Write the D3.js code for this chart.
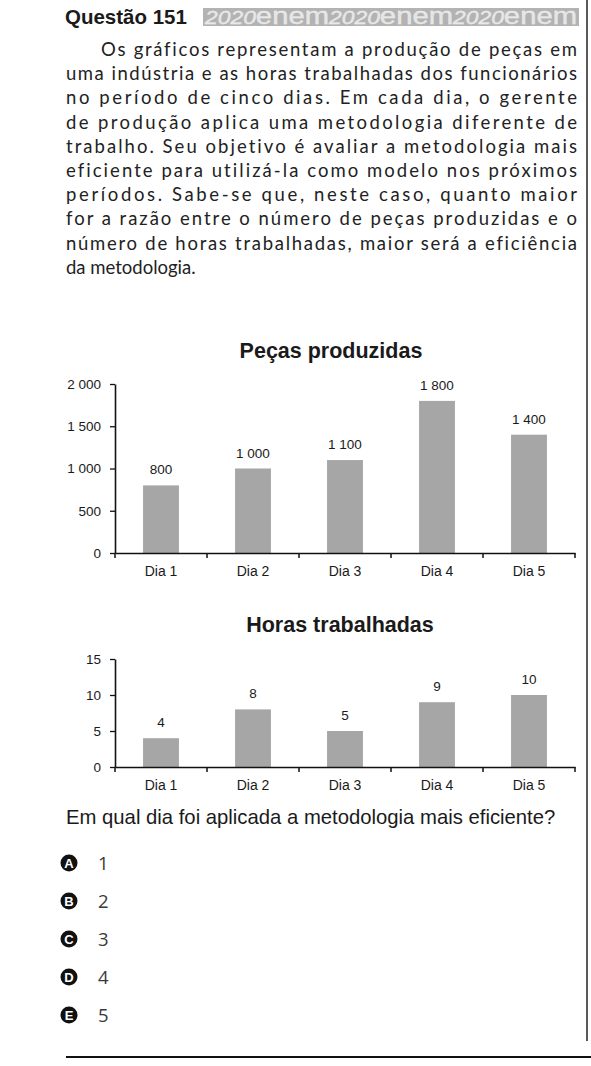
<!DOCTYPE html>
<html>
<head>
<meta charset="utf-8">
<script src="https://cdn.jsdelivr.net/npm/d3@7"></script>
<style>
  html, body { margin: 0; padding: 0; background: #fff; }
  svg { display: block; }
  text { font-variant-ligatures: none; font-feature-settings: "liga" 0, "dlig" 0, "clig" 0; }
</style>
</head>
<body>
<script>
// Data
const days = ["Dia 1", "Dia 2", "Dia 3", "Dia 4", "Dia 5"];
const pecas = [800, 1000, 1100, 1800, 1400];
const horas = [4, 8, 5, 9, 10];
const pecasTicks = [0, 500, 1000, 1500, 2000];
const horasTicks = [0, 5, 10, 15];

const bodyLines = [
  "Os gráficos representam a produção de peças em",
  "uma indústria e as horas trabalhadas dos funcionários",
  "no período de cinco dias. Em cada dia, o gerente",
  "de produção aplica uma metodologia diferente de",
  "trabalho. Seu objetivo é avaliar a metodologia mais",
  "eficiente para utilizá-la como modelo nos próximos",
  "períodos. Sabe-se que, neste caso, quanto maior",
  "for a razão entre o número de peças produzidas e o",
  "número de horas trabalhadas, maior será a eficiência",
  "da metodologia."
];
const optionLetters = ["A", "B", "C", "D", "E"];
const optionValues = ["1", "2", "3", "4", "5"];

const W = 591, H = 1066;
const arial = "'Liberation Sans', Arial, sans-serif";
const body = "Lato, 'Open Sans', sans-serif";

const locale = d3.formatLocale({decimal: ",", thousands: " ", grouping: [3], currency: ["", ""]});
const fmt = locale.format(",d");

const svg = d3.select("body").append("svg")
  .attr("width", W)
  .attr("height", H);

// header
svg.append("text")
  .attr("x", 65).attr("y", 24)
  .attr("font-family", arial)
  .attr("font-weight", "bold")
  .attr("font-size", 20.5)
  .attr("fill", "#1a1a1a")
  .text("Questão 151");

svg.append("rect")
  .attr("x", 203).attr("y", 8)
  .attr("width", 376).attr("height", 18)
  .attr("fill", "#b3b3b3");

// the "2020enem" banner: small slanted digits, larger lowercase word
const banner = svg.append("text")
  .attr("x", 205).attr("y", 24)
  .attr("textLength", 372)
  .attr("lengthAdjust", "spacingAndGlyphs")
  .attr("font-family", arial)
  .attr("fill", "#e4e4e4")
  .attr("stroke", "#f4f4f4")
  .attr("stroke-width", 0.3);
["2020", "enem", "2020", "enem", "2020", "enem"].forEach(s => {
  const digits = s === "2020";
  banner.append("tspan")
    .attr("font-size", digits ? 18 : 23)
    .attr("font-style", digits ? "italic" : "normal")
    .text(s);
});

// right border + bottom rule
svg.append("line")
  .attr("x1", 587).attr("x2", 587)
  .attr("y1", 0).attr("y2", 1041)
  .attr("stroke", "#222").attr("stroke-width", 1.5);

svg.append("line")
  .attr("x1", 66).attr("x2", W)
  .attr("y1", 1057).attr("y2", 1057)
  .attr("stroke", "#111").attr("stroke-width", 2);

// body paragraph, justified line by line
const lineTop = 56, lineStep = 24.2;
bodyLines.forEach((line, i) => {
  const x0 = i === 0 ? 101 : 66;
  const t = svg.append("text")
    .attr("x", x0)
    .attr("y", lineTop + i * lineStep)
    .attr("font-family", body)
    .attr("font-size", 18.5)
    .attr("fill", "#222")
    .text(line);
  if (i < bodyLines.length - 1) {
    t.attr("textLength", 577 - x0).attr("lengthAdjust", "spacing");
  }
});

// bar chart helper
function barChart(opts) {
  const g = svg.append("g");

  g.append("text")
    .attr("x", opts.titleX)
    .attr("y", opts.titleY)
    .attr("text-anchor", "middle")
    .attr("font-family", arial)
    .attr("font-weight", "bold")
    .attr("font-size", 21.5)
    .attr("fill", "#1a1a1a")
    .text(opts.title);

  const x = d3.scaleBand()
    .domain(days)
    .range([115, 575])
    .padding(0);

  const y = d3.scaleLinear()
    .domain([0, opts.max])
    .range([opts.bottom, opts.top]);

  const barW = x.bandwidth() * 0.39;

  g.selectAll("rect.bar")
    .data(opts.values)
    .join("rect")
    .attr("class", "bar")
    .attr("x", (d, i) => x(days[i]) + (x.bandwidth() - barW) / 2)
    .attr("y", d => y(d))
    .attr("width", barW)
    .attr("height", d => y(0) - y(d))
    .attr("fill", "#a6a6a6");

  g.selectAll("text.val")
    .data(opts.values)
    .join("text")
    .attr("class", "val")
    .attr("x", (d, i) => x(days[i]) + x.bandwidth() / 2)
    .attr("y", d => y(d) - 11)
    .attr("text-anchor", "middle")
    .attr("font-family", arial)
    .attr("font-size", 13.5)
    .attr("fill", "#1a1a1a")
    .text(d => fmt(d));

  // y axis
  const yAxis = g.append("g")
    .attr("transform", "translate(115,0)")
    .call(d3.axisLeft(y)
      .tickValues(opts.ticks)
      .tickSize(5)
      .tickSizeOuter(0)
      .tickPadding(9)
      .tickFormat(fmt));

  // x axis: labels centred in each slot
  const xAxis = g.append("g")
    .attr("transform", `translate(0,${opts.bottom})`)
    .call(d3.axisBottom(x).tickSize(0).tickPadding(13));

  // slot boundary ticks
  const edges = days.map(d => x(d)).concat([x.range()[1]]);
  g.selectAll("line.edge")
    .data(edges)
    .join("line")
    .attr("class", "edge")
    .attr("x1", d => d).attr("x2", d => d)
    .attr("y1", opts.bottom).attr("y2", opts.bottom + 5)
    .attr("stroke", "#111").attr("stroke-width", 1.5);

  [yAxis, xAxis].forEach(a => {
    a.select(".domain").attr("stroke", "#111").attr("stroke-width", 1.6);
    a.selectAll(".tick line").attr("stroke", "#111").attr("stroke-width", 1.3);
    a.selectAll(".tick text")
      .attr("font-family", arial)
      .attr("font-size", 13.5)
      .attr("fill", "#1a1a1a");
  });
  xAxis.selectAll(".tick text").attr("font-size", 14);
}

barChart({
  title: "Peças produzidas",
  titleX: 331,
  titleY: 358,
  values: pecas,
  max: 2000,
  ticks: pecasTicks,
  top: 384,
  bottom: 553
});

barChart({
  title: "Horas trabalhadas",
  titleX: 340,
  titleY: 632,
  values: horas,
  max: 15,
  ticks: horasTicks,
  top: 659,
  bottom: 767
});

// question
svg.append("text")
  .attr("x", 66).attr("y", 824)
  .attr("font-family", arial)
  .attr("font-size", 20.3)
  .attr("fill", "#1a1a1a")
  .text("Em qual dia foi aplicada a metodologia mais eficiente?");

// answer options
const optY = d3.scalePoint()
  .domain(optionLetters)
  .range([863, 1015]);

const opt = svg.selectAll("g.opt")
  .data(optionLetters)
  .join("g")
  .attr("class", "opt")
  .attr("transform", d => `translate(0,${optY(d)})`);

opt.append("circle")
  .attr("cx", 69).attr("cy", 0).attr("r", 8.5)
  .attr("fill", "#111");

opt.append("text")
  .attr("x", 69).attr("y", 4.5)
  .attr("text-anchor", "middle")
  .attr("font-family", arial)
  .attr("font-weight", "bold")
  .attr("font-size", 13)
  .attr("fill", "#fff")
  .text(d => d);

opt.append("text")
  .attr("x", 98).attr("y", 7)
  .attr("font-family", "'Open Sans', sans-serif")
  .attr("font-size", 18.5)
  .attr("fill", "#3a3a3a")
  .text((d, i) => optionValues[i]);
</script>
</body>
</html>
